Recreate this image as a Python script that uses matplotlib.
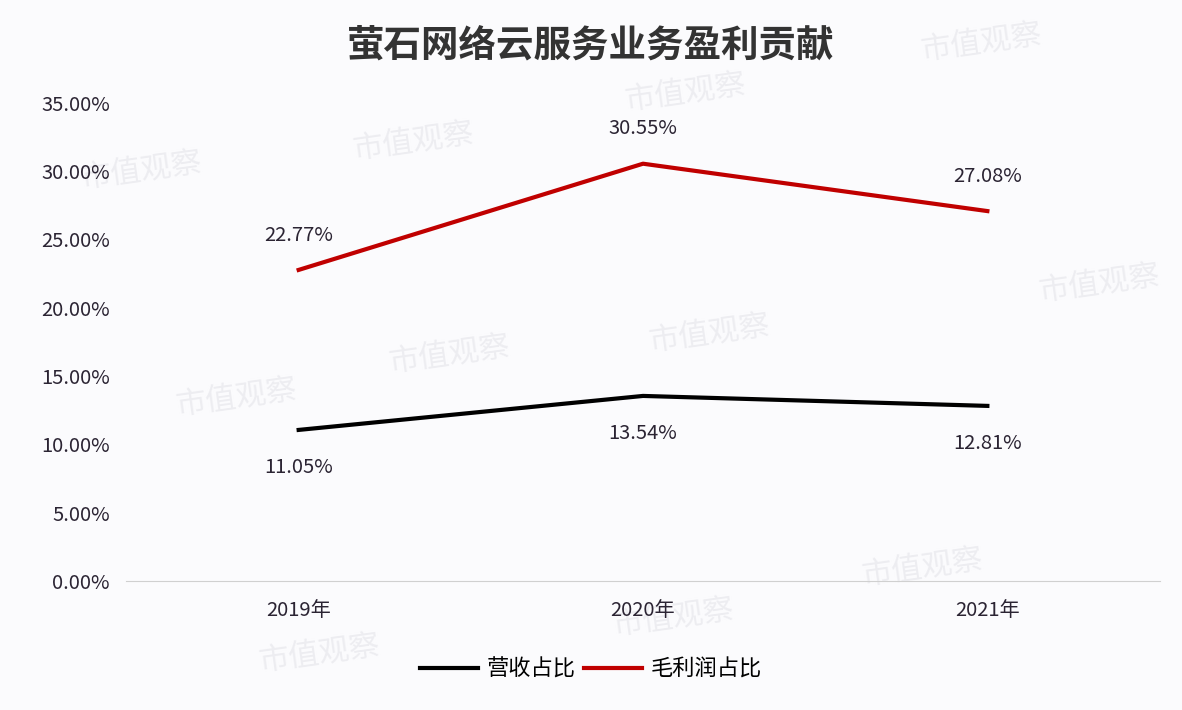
import matplotlib.pyplot as plt
from matplotlib.ticker import FuncFormatter

plt.rcParams['font.family'] = ['Noto Sans CJK SC', 'DejaVu Sans']

# data
years = ['2019年', '2020年', '2021年']
revenue_share = [11.05, 13.54, 12.81]   # 营收占比 (%)
profit_share = [22.77, 30.55, 27.08]    # 毛利润占比 (%)

fig = plt.figure(figsize=(11.82, 7.10), dpi=100)
fig.patch.set_facecolor('#fbfbfd')
ax = fig.add_axes([0.107, 0.182, 0.874, 0.673])
ax.set_facecolor('none')

# faint watermarks (behind everything)
marks = [(0.35, 0.80), (0.83, 0.94), (0.58, 0.87), (0.12, 0.76), (0.60, 0.53),
         (0.93, 0.60), (0.38, 0.50), (0.20, 0.44), (0.78, 0.20), (0.57, 0.13),
         (0.27, 0.08)]
for mx, my in marks:
    fig.text(mx, my, '市值观察', color='#ededf1', fontsize=22, rotation=8,
             ha='center', va='center', zorder=-5)

txt = '#2b2433'
x = range(len(years))
ax.plot(x, revenue_share, color='black', linewidth=3, label='营收占比', zorder=3)
ax.plot(x, profit_share, color='#c00000', linewidth=3, label='毛利润占比', zorder=3)

for i, v in enumerate(profit_share):
    ax.annotate(f'{v:.2f}%', (i, v), xytext=(0, 25), textcoords='offset points',
                ha='center', va='center', fontsize=14.5, color=txt)
for i, v in enumerate(revenue_share):
    ax.annotate(f'{v:.2f}%', (i, v), xytext=(0, -27), textcoords='offset points',
                ha='center', va='center', fontsize=14.5, color=txt)

ax.set_xlim(-0.5, 2.5)
ax.set_ylim(0, 35)
ax.set_yticks(range(0, 36, 5))
ax.yaxis.set_major_formatter(FuncFormatter(lambda v, p: f'{v:.2f}%'))
ax.set_xticks(list(x))
ax.set_xticklabels(years)
ax.tick_params(axis='both', length=0, labelsize=14.5, colors=txt)
ax.tick_params(axis='y', pad=12)
ax.tick_params(axis='x', pad=14)

for s in ['top', 'right', 'left']:
    ax.spines[s].set_visible(False)
ax.spines['bottom'].set_color('#d0d0d0')

fig.text(0.5, 0.937, '萤石网络云服务业务盈利贡献', ha='center', va='center',
         fontsize=27, fontweight='bold', color='#333333')

fig.legend(loc='center', bbox_to_anchor=(0.5, 0.058), ncol=2, frameon=False,
           fontsize=16, handlelength=2.6, columnspacing=0.4, handletextpad=0.4)

plt.savefig('out.png', dpi=100, facecolor=fig.get_facecolor())
